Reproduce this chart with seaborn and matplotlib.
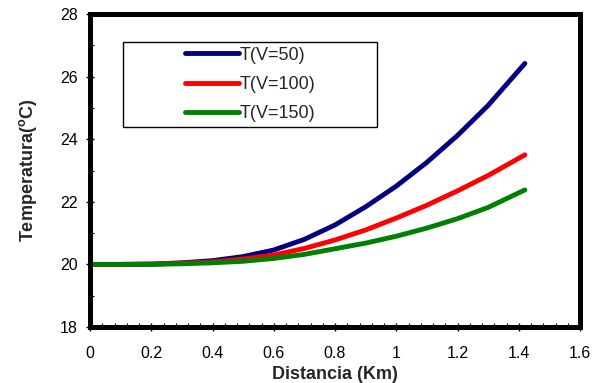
import numpy as np
import pandas as pd
import matplotlib
matplotlib.use("Agg")
import matplotlib.pyplot as plt
from matplotlib.patches import Rectangle
from matplotlib.ticker import MultipleLocator
import seaborn as sns

distancia = [0, 0.1, 0.2, 0.3, 0.4, 0.5, 0.6, 0.7, 0.8, 0.9, 1.0, 1.1, 1.2, 1.3, 1.42]
t_v50 = [20, 20.0, 20.01, 20.05, 20.12, 20.25, 20.46, 20.80, 21.26, 21.84, 22.50, 23.26, 24.12, 25.08, 26.42]
t_v100 = [20, 20.0, 20.01, 20.04, 20.08, 20.17, 20.30, 20.51, 20.78, 21.10, 21.48, 21.89, 22.35, 22.84, 23.50]
t_v150 = [20, 20.0, 20.0, 20.02, 20.05, 20.10, 20.19, 20.32, 20.50, 20.68, 20.90, 21.16, 21.46, 21.82, 22.38]
labels = ["T(V=50)", "T(V=100)", "T(V=150)"]
colors = ["#000080", "#FF0000", "#008000"]
x_ticks = [0, 0.2, 0.4, 0.6, 0.8, 1, 1.2, 1.4, 1.6]
x_tick_labels = ["0", "0.2", "0.4", "0.6", "0.8", "1", "1.2", "1.4", "1.6"]
y_ticks = [18, 20, 22, 24, 26, 28]

sns.set_theme(style="white")
plt.rcParams["font.family"] = ["Liberation Sans", "DejaVu Sans"]

df = pd.concat([
    pd.DataFrame({"x": distancia, "y": vals, "serie": lab})
    for vals, lab in zip([t_v50, t_v100, t_v150], labels)
])

fig = plt.figure(figsize=(6.09, 3.83), dpi=100)
ax = fig.add_axes([90/609, 1-327/383, (580-90)/609, (327-14)/383])

sns.lineplot(data=df, x="x", y="y", hue="serie", palette=dict(zip(labels, colors)),
             linewidth=3.5, ax=ax, legend=False)
for ln in ax.get_lines():
    ln.set_solid_capstyle("round")
    ln.set_solid_joinstyle("round")

ax.set_xlim(0, 1.6)
ax.set_ylim(18, 28)
ax.set_xticks(x_ticks)
ax.set_xticklabels(x_tick_labels)
ax.set_yticks(y_ticks)
ax.xaxis.set_minor_locator(MultipleLocator(0.04))
ax.yaxis.set_minor_locator(MultipleLocator(1))
ax.tick_params(axis="both", which="major", direction="inout", length=6, width=1,
               labelsize=11.5, colors="black")
ax.tick_params(axis="x", which="major", pad=10.5)
ax.tick_params(axis="y", which="major", pad=6)
ax.tick_params(axis="both", which="minor", direction="in", length=3, width=0.8, colors="black")
ax.tick_params(bottom=True, left=True, which="both")

for s in ax.spines.values():
    s.set_linewidth(3.6)
    s.set_color("black")

ax.set_xlabel("Distancia (Km)", fontsize=13, fontweight="bold", labelpad=4)
ax.set_ylabel(r"Temperatura($^\mathregular{o}$C)", fontsize=13, fontweight="bold", labelpad=15)

# legend box
x0, y0 = 123/609, 1-127/383
w, h = (377-123)/609, (127-42)/383
fig.patches.append(Rectangle((x0, y0), w, h, transform=fig.transFigure,
                             fill=False, edgecolor="black", linewidth=1.0, zorder=5))
handles = [plt.Line2D([], [], color=c, linewidth=3.5, solid_capstyle="round") for c in colors]
leg = ax.legend(handles, labels, loc="center", frameon=False, fontsize=13,
                bbox_to_anchor=(x0 + w/2, y0 + h/2), bbox_transform=fig.transFigure,
                handlelength=3.0, handletextpad=0.05, labelspacing=0.68)

fig.savefig("out.png", dpi=100)
